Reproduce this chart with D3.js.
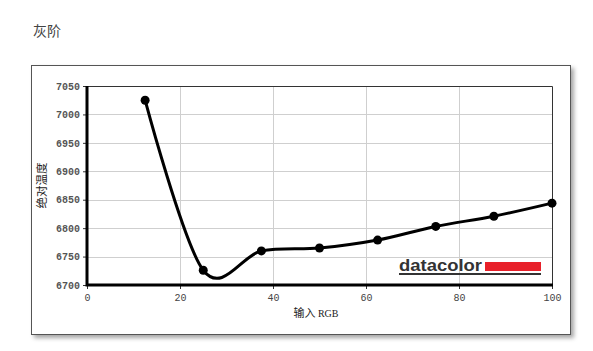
<!DOCTYPE html>
<html>
<head>
<meta charset="utf-8">
<script src="https://cdn.jsdelivr.net/npm/d3@7"></script>
<style>
  body { margin: 0; background: #fff; }
</style>
</head>
<body>
<div id="chart"></div>
<script>
// grey-scale steps: input RGB (%) vs. colour temperature (K)
let inputRGB = [12.5, 25, 37.5, 50, 62.5, 75, 87.5, 100];
let colorTemp = [7025, 6726, 6760, 6765, 6779, 6803, 6821, 6844];
let xTicks = [0, 20, 40, 60, 80, 100];
let yTicks = [6700, 6750, 6800, 6850, 6900, 6950, 7000, 7050];

let W = 593, H = 351;
let plot = {left: 87, right: 552, top: 86, bottom: 285};

let svg = d3.select("#chart")
  .append("svg")
    .attr("width", W)
    .attr("height", H);

let defs = svg.append("defs");
let f = defs.append("filter").attr("id", "shadow")
  .attr("x", "-5%").attr("y", "-5%").attr("width", "115%").attr("height", "115%");
f.append("feDropShadow")
  .attr("dx", 3).attr("dy", 3).attr("stdDeviation", 2)
  .attr("flood-color", "#000").attr("flood-opacity", 0.35);

// page title
svg.append("text")
  .attr("x", 33).attr("y", 36)
  .attr("font-family", "Noto Sans CJK SC")
  .attr("font-size", 14)
  .attr("fill", "#444")
  .text("灰阶");

// outer frame
svg.append("rect")
  .attr("x", 31.5).attr("y", 65.5)
  .attr("width", 539).attr("height", 269)
  .attr("fill", "#fff")
  .attr("stroke", "#555")
  .attr("filter", "url(#shadow)");

let x = d3.scaleLinear().domain([0, 100]).range([plot.left, plot.right]);
let y = d3.scaleLinear().domain([6700, 7050]).range([plot.bottom, plot.top]);

// grid
svg.append("g")
  .selectAll("line.h")
  .data(yTicks)
  .join("line")
    .attr("x1", plot.left).attr("x2", plot.right)
    .attr("y1", d => Math.round(y(d)) + 0.5).attr("y2", d => Math.round(y(d)) + 0.5)
    .attr("stroke", "#cfcfcf");
svg.append("g")
  .selectAll("line.v")
  .data(xTicks.slice(1, -1))
  .join("line")
    .attr("x1", d => Math.round(x(d)) + 0.5).attr("x2", d => Math.round(x(d)) + 0.5)
    .attr("y1", plot.top).attr("y2", plot.bottom)
    .attr("stroke", "#cfcfcf");

// top and right borders of plot
svg.append("path")
  .attr("d", `M${plot.left},${plot.top + 0.5}H${plot.right + 0.5}V${plot.bottom}`)
  .attr("fill", "none")
  .attr("stroke", "#333");

// axes
let tickFont = "'Liberation Mono', 'DejaVu Sans Mono', monospace";
let yAxis = svg.append("g")
  .attr("transform", `translate(${plot.left},0)`)
  .call(d3.axisLeft(y).tickValues(yTicks).tickSize(4).tickFormat(d3.format("d")));
yAxis.select(".domain").remove();
yAxis.selectAll("text").attr("font-family", tickFont).attr("font-size", 10).attr("fill", "#555").attr("font-weight", "bold");
yAxis.selectAll("line").attr("stroke", "#333");

let xAxis = svg.append("g")
  .attr("transform", `translate(0,${plot.bottom})`)
  .call(d3.axisBottom(x).tickValues(xTicks).tickSize(4).tickFormat(d3.format("d")));
xAxis.select(".domain").remove();
xAxis.selectAll("text").attr("font-family", tickFont).attr("font-size", 10).attr("fill", "#444").attr("dy", "0.9em");
xAxis.selectAll("line").attr("stroke", "#333");

// thick left and bottom axis lines
svg.append("path")
  .attr("d", `M${plot.left},${plot.top}V${plot.bottom}H${plot.right + 1}`)
  .attr("fill", "none")
  .attr("stroke", "#000")
  .attr("stroke-width", 3);

// axis titles
svg.append("text")
  .attr("transform", `translate(46,${(plot.top + plot.bottom) / 2}) rotate(-90)`)
  .attr("text-anchor", "middle")
  .attr("font-family", "Noto Sans CJK SC")
  .attr("font-size", 11.5)
  .attr("fill", "#222")
  .text("绝对温度");

svg.append("text")
  .attr("x", 316).attr("y", 317)
  .attr("text-anchor", "middle")
  .attr("fill", "#222")
  .attr("font-size", 11)
  .call(t => {
    t.append("tspan").attr("font-family", "Noto Sans CJK SC").text("输入 ");
    t.append("tspan").attr("font-family", "'Liberation Serif', serif").attr("font-size", 10).text("RGB");
  });

// datacolor logo
let logo = svg.append("g");
logo.append("text")
  .attr("x", 399).attr("y", 271)
  .attr("font-family", "'Liberation Sans', Arial, sans-serif")
  .attr("font-weight", "bold")
  .attr("font-size", 17)
  .attr("fill", "#333")
  .attr("textLength", 83)
  .attr("lengthAdjust", "spacingAndGlyphs")
  .text("datacolor");
logo.append("rect")
  .attr("x", 485).attr("y", 262).attr("width", 56).attr("height", 9)
  .attr("fill", "#e8202a");
logo.append("rect")
  .attr("x", 399).attr("y", 273).attr("width", 142).attr("height", 2)
  .attr("fill", "#333");

// line
let data = inputRGB.map((v, i) => ({rgb: v, temp: colorTemp[i]}));
svg.append("path")
  .datum(data)
  .attr("fill", "none")
  .attr("stroke", "#000")
  .attr("stroke-width", 3)
  .attr("d", d3.line()
    .x(d => x(d.rgb))
    .y(d => y(d.temp))
    .curve(d3.curveCardinal.tension(0))
  );

svg.append("g")
  .selectAll("circle")
  .data(data)
  .join("circle")
    .attr("cx", d => x(d.rgb))
    .attr("cy", d => y(d.temp))
    .attr("r", 4.5)
    .attr("fill", "#000");
</script>
</body>
</html>
